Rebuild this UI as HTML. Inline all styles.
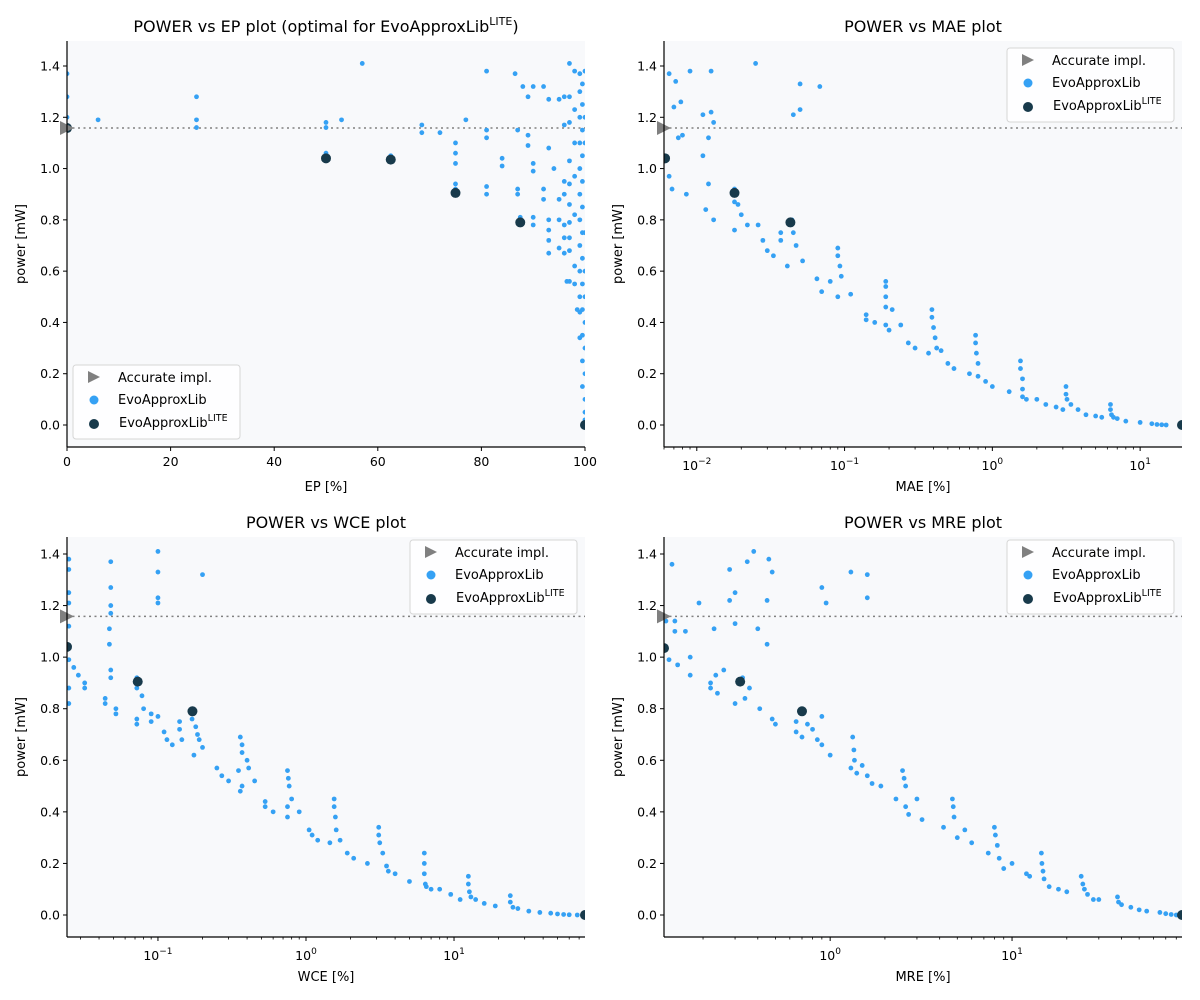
<!DOCTYPE html>
<html><head><meta charset="utf-8"><style>
body{margin:0;background:#fff;}
svg{display:block;font-family:"DejaVu Sans","Liberation Sans",sans-serif;}
</style></head><body>
<svg id="chart" width="1200" height="1000" viewBox="0 0 1200 1000" xmlns="http://www.w3.org/2000/svg"></svg>
<script>
// ---- Panel 1: EP ----
const epLightX=[0,0,0,6,25,25,25,50,50,50,53,57,62.5,68.5,68.5,72,75,75,75,75,75,77,81,81,81,81,81,84,84,86.5,87,87,87,87.5,88,89,89,89,90,90,90,90,90,92,92,92,93,93,93,93,93,93,94,95,95,95,95,96,96,96,96,96,96,96,96.5,97,97,97,97,97,97,97,97,97,97,98,98,98,98,98,98,98,98.5,99,99,99,99,99,99,99,99,99,99,99,99,99.5,99.5,99.5,99.5,99.5,99.5,99.5,99.5,99.5,99.5,99.5,99.5,99.5,100,100,100,100,100,100,100,100,100,100,100,100,100];
const epLightY=[1.37,1.28,1.2,1.19,1.28,1.19,1.16,1.18,1.16,1.06,1.19,1.41,1.05,1.17,1.14,1.14,1.1,1.06,1.02,0.94,0.92,1.19,1.38,1.15,1.12,0.93,0.9,1.04,1.01,1.37,1.15,0.92,0.9,0.81,1.32,1.28,1.13,1.09,1.32,1.02,0.99,0.81,0.78,1.32,0.92,0.88,1.27,1.08,0.8,0.76,0.72,0.67,1.0,1.27,0.88,0.8,0.69,1.28,1.17,0.95,0.9,0.78,0.73,0.67,0.56,1.41,1.28,1.18,1.03,0.94,0.86,0.79,0.73,0.68,0.56,1.38,1.23,1.1,0.97,0.82,0.62,0.55,0.45,1.37,1.3,1.2,1.1,1.0,0.9,0.8,0.7,0.6,0.5,0.44,0.34,1.33,1.25,1.15,1.05,0.95,0.85,0.75,0.65,0.55,0.45,0.35,0.25,0.15,1.38,1.2,1.1,0.75,0.6,0.5,0.4,0.3,0.2,0.1,0.05,0.02,0.0];
const epDarkX=[0,50,62.5,75,87.5,100];
const epDarkY=[1.158,1.04,1.035,0.905,0.79,0.0];
const epAccX=[0], epAccY=[1.158];
const epTicks=[0,20,40,60,80,100];
// ---- Panel 2: MAE ----
const maeLightX=[0.0065,0.0065,0.0068,0.007,0.0072,0.0075,0.0078,0.008,0.0085,0.009,0.011,0.011,0.0115,0.012,0.012,0.0125,0.0125,0.013,0.013,0.018,0.018,0.018,0.019,0.02,0.022,0.025,0.026,0.028,0.03,0.033,0.037,0.037,0.041,0.044,0.045,0.045,0.047,0.05,0.05,0.052,0.065,0.068,0.07,0.08,0.09,0.09,0.093,0.095,0.09,0.11,0.14,0.14,0.16,0.19,0.19,0.19,0.19,0.19,0.2,0.21,0.24,0.27,0.3,0.37,0.39,0.39,0.4,0.41,0.42,0.45,0.5,0.55,0.7,0.77,0.77,0.78,0.8,0.8,0.9,1.0,1.3,1.55,1.55,1.6,1.6,1.6,1.7,2.0,2.3,2.7,3.0,3.15,3.15,3.2,3.4,3.8,4.3,5,5.5,6.3,6.3,6.4,6.6,7,8,10,12,13,14,15];
const maeLightY=[1.37,0.97,0.92,1.24,1.34,1.12,1.26,1.13,0.9,1.38,1.21,1.05,0.84,1.12,0.94,1.38,1.22,1.18,0.8,0.92,0.87,0.76,0.86,0.82,0.78,1.41,0.78,0.72,0.68,0.66,0.75,0.72,0.62,0.8,1.21,0.75,0.7,1.33,1.23,0.64,0.57,1.32,0.52,0.56,0.69,0.66,0.62,0.58,0.5,0.51,0.43,0.41,0.4,0.56,0.54,0.5,0.46,0.39,0.37,0.45,0.39,0.32,0.3,0.28,0.45,0.42,0.38,0.34,0.3,0.29,0.24,0.22,0.2,0.35,0.32,0.28,0.24,0.19,0.17,0.15,0.13,0.25,0.22,0.18,0.14,0.11,0.1,0.1,0.08,0.07,0.06,0.15,0.12,0.1,0.08,0.06,0.04,0.035,0.03,0.08,0.06,0.04,0.03,0.025,0.015,0.01,0.005,0.002,0.001,0];
const maeDarkX=[0.0061,0.018,0.043,19.2];
const maeDarkY=[1.04,0.905,0.79,0.0];
const maeAccX=[0.006], maeAccY=[1.158];
const maeTicks=[-2,-1,0,1];
// ---- Panel 3: WCE ----
const wceLightX=[0.025,0.025,0.025,0.025,0.025,0.025,0.025,0.025,0.027,0.029,0.032,0.032,0.044,0.044,0.048,0.048,0.048,0.048,0.047,0.047,0.048,0.048,0.052,0.052,0.072,0.072,0.072,0.072,0.078,0.08,0.09,0.09,0.1,0.1,0.1,0.1,0.1,0.11,0.115,0.125,0.14,0.14,0.145,0.17,0.18,0.185,0.19,0.175,0.2,0.2,0.25,0.27,0.3,0.35,0.36,0.37,0.37,0.37,0.36,0.4,0.41,0.45,0.53,0.53,0.6,0.75,0.76,0.77,0.75,0.75,0.8,0.9,1.05,1.1,1.2,1.45,1.55,1.55,1.58,1.6,1.7,1.9,2.1,2.6,3.1,3.1,3.15,3.3,3.5,3.6,4,5,6.3,6.3,6.3,6.4,6.5,7,8,9.5,11,12.5,12.5,12.7,13,14,16,19,24,24,25,27,32,38,45,50,55,60,68];
const wceLightY=[1.38,1.34,1.25,1.21,1.12,0.99,0.88,0.82,0.96,0.93,0.9,0.88,0.84,0.82,1.37,1.27,1.2,1.17,1.11,1.05,0.95,0.92,0.8,0.78,0.92,0.88,0.76,0.74,0.85,0.8,0.78,0.75,1.41,1.33,1.23,1.21,0.77,0.71,0.68,0.66,0.75,0.72,0.68,0.76,0.73,0.7,0.68,0.62,1.32,0.65,0.57,0.54,0.52,0.56,0.69,0.66,0.63,0.5,0.48,0.6,0.57,0.52,0.44,0.42,0.4,0.56,0.53,0.5,0.42,0.38,0.45,0.4,0.33,0.31,0.29,0.28,0.45,0.42,0.38,0.33,0.29,0.24,0.22,0.2,0.34,0.31,0.28,0.24,0.19,0.17,0.16,0.13,0.24,0.2,0.16,0.12,0.11,0.1,0.1,0.08,0.06,0.15,0.12,0.09,0.07,0.06,0.045,0.035,0.075,0.05,0.03,0.025,0.015,0.01,0.007,0.004,0.002,0.001,0.0];
const wceDarkX=[0.0243,0.073,0.171,76.7];
const wceDarkY=[1.04,0.905,0.79,0.0];
const wceAccX=[0.0243], wceAccY=[1.158];
const wceTicks=[-1,0,1];
// ---- Panel 4: MRE ----
const mreLightX=[0.125,0.125,0.13,0.135,0.14,0.14,0.145,0.16,0.17,0.17,0.19,0.22,0.22,0.23,0.235,0.24,0.26,0.28,0.28,0.3,0.3,0.3,0.33,0.34,0.35,0.36,0.38,0.4,0.41,0.45,0.45,0.46,0.48,0.48,0.5,0.65,0.65,0.7,0.75,0.8,0.85,0.9,0.9,0.9,0.95,1.0,1.3,1.3,1.33,1.35,1.36,1.4,1.5,1.6,1.6,1.6,1.7,1.9,2.3,2.5,2.55,2.6,2.6,2.7,3.0,3.2,4.2,4.7,4.75,4.8,5.0,5.5,6,7.4,8,8.1,8.3,8.5,9,10,12,12.5,14.5,14.6,14.8,15,16,18,20,24,24.5,25,26,28,30,38,38.5,40,45,50,55,65,70,75,80];
const mreLightY=[1.14,1.04,0.99,1.36,1.14,1.1,0.97,1.1,1.0,0.93,1.21,0.9,0.88,1.11,0.93,0.86,0.95,1.34,1.22,1.25,1.13,0.82,0.92,0.84,1.37,0.88,1.41,1.11,0.8,1.22,1.05,1.38,1.33,0.76,0.74,0.75,0.71,0.69,0.74,0.72,0.68,1.27,0.77,0.66,1.21,0.62,0.57,1.33,0.69,0.64,0.6,0.55,0.58,1.32,1.23,0.54,0.51,0.5,0.45,0.56,0.53,0.5,0.42,0.39,0.45,0.37,0.34,0.45,0.42,0.38,0.3,0.33,0.28,0.24,0.34,0.31,0.27,0.22,0.18,0.2,0.16,0.15,0.24,0.2,0.17,0.14,0.11,0.1,0.09,0.15,0.12,0.1,0.08,0.06,0.06,0.07,0.05,0.04,0.03,0.02,0.015,0.01,0.005,0.002,0.0];
const mreDarkX=[0.122,0.32,0.7,86];
const mreDarkY=[1.035,0.905,0.79,0.0];
const mreAccX=[0.122], mreAccY=[1.158];
const mreTicks=[0,1];
const yTicks=[0.0,0.2,0.4,0.6,0.8,1.0,1.2,1.4];
const accuratePower=1.158;

const NS="http://www.w3.org/2000/svg";
const svg=document.getElementById('chart');
function mk(tag,attrs,parent){const e=document.createElementNS(NS,tag);for(const k in attrs)e.setAttribute(k,attrs[k]);(parent||svg).appendChild(e);return e;}

const panels=[
 {key:'ep',title:'POWER vs EP plot (optimal for EvoApproxLib',lite:true,xlabel:'EP [%]',L:67,R:585,T:41,B:447,y0:425,y14:66,log:false,xmin:0,xmax:100,lx:epLightX,ly:epLightY,dx:epDarkX,dy:epDarkY,ax:epAccX,ay:epAccY,ticks:epTicks,legend:[73,365]},
 {key:'mae',title:'POWER vs MAE plot',xlabel:'MAE [%]',L:664,R:1182,T:41,B:447,y0:425,y14:66,log:true,xmin:0.006,xmax:19.2,lx:maeLightX,ly:maeLightY,dx:maeDarkX,dy:maeDarkY,ax:maeAccX,ay:maeAccY,ticks:maeTicks,legend:[1007,48]},
 {key:'wce',title:'POWER vs WCE plot',xlabel:'WCE [%]',L:67,R:585,T:537,B:937,y0:915,y14:554,log:true,xmin:0.0243,xmax:76.7,lx:wceLightX,ly:wceLightY,dx:wceDarkX,dy:wceDarkY,ax:wceAccX,ay:wceAccY,ticks:wceTicks,legend:[410,540]},
 {key:'mre',title:'POWER vs MRE plot',xlabel:'MRE [%]',L:664,R:1182,T:537,B:937,y0:915,y14:554,log:true,xmin:0.122,xmax:86,lx:mreLightX,ly:mreLightY,dx:mreDarkX,dy:mreDarkY,ax:mreAccX,ay:mreAccY,ticks:mreTicks,legend:[1007,540]}
];
const LIGHT='#35a1f4', DARK='#183a4b', GREY='#808080';

panels.forEach(p=>{
 const g=mk('g',{});
 
 
 const xs=p.log?(v=>p.L+(Math.log10(v)-Math.log10(p.xmin))/(Math.log10(p.xmax)-Math.log10(p.xmin))*(p.R-p.L)):(v=>p.L+(v-p.xmin)/(p.xmax-p.xmin)*(p.R-p.L));
 const ys=v=>p.y0+(p.y14-p.y0)*v/1.4;
 const bg=mk('rect',{x:p.L,y:p.T,width:p.R-p.L,height:p.B-p.T,fill:'#f8f9fb'},g);
 
 
 // title
 const t=mk('text',{x:(p.L+p.R)/2,y:p.T-9,'text-anchor':'middle','font-size':16,fill:'#000'},g);
 
 
 t.textContent=p.title;
 if(p.lite){const s=mk('tspan',{'font-size':11,dy:-7},t);s.textContent='LITE';const s2=mk('tspan',{'font-size':16,dy:7},t);s2.textContent=')';}
 // dotted line
 const dl=mk('line',{x1:p.L,x2:p.R,y1:ys(accuratePower),y2:ys(accuratePower),stroke:GREY,'stroke-width':1.5,'stroke-dasharray':'2,3.5'},g);
 
 
 // light points
 const clip=mk('clipPath',{id:'clip-'+p.key},g);
 mk('rect',{x:p.L,y:p.T,width:p.R-p.L,height:p.B-p.T},clip);
 const pg=mk('g',{'clip-path':'url(#clip-'+p.key+')'},g);
 p.lx.forEach((v,i)=>{
  const c=mk('circle',{cx:xs(v),cy:ys(p.ly[i]),r:2.4,fill:LIGHT},pg);
  
  
 });
 p.dx.forEach((v,i)=>{
  const c=mk('circle',{cx:xs(v),cy:ys(p.dy[i]),r:5,fill:DARK},pg);
  
  
 });
 p.ax.forEach((v,i)=>{
  const x=xs(v),y=ys(p.ay[i]);
  const tr=mk('polygon',{points:`${x-7},${y-7} ${x+7},${y} ${x-7},${y+7}`,fill:GREY},g);
  
  
 });
 // spines
 mk('line',{x1:p.L,x2:p.L,y1:p.T,y2:p.B,stroke:'#000','stroke-width':1.2},g);
 mk('line',{x1:p.L,x2:p.R,y1:p.B,y2:p.B,stroke:'#000','stroke-width':1.2},g);
 // y ticks
 yTicks.forEach(v=>{
  const y=ys(v);
  mk('line',{x1:p.L-4,x2:p.L,y1:y,y2:y,stroke:'#000'},g);
  const tt=mk('text',{x:p.L-7,y:y+4.5,'text-anchor':'end','font-size':12.5,fill:'#000'},g);
  
  
  tt.textContent=v.toFixed(1);
 });
 const yl=mk('text',{x:p.L-42,y:(p.T+p.B)/2,'text-anchor':'middle','font-size':13,transform:`rotate(-90 ${p.L-42} ${(p.T+p.B)/2})`},g);
 
 
 yl.textContent='power [mW]';
 // x ticks
 if(!p.log){
  p.ticks.forEach(v=>{
   const x=xs(v);
   mk('line',{x1:x,x2:x,y1:p.B,y2:p.B+4,stroke:'#000'},g);
   const tt=mk('text',{x:x,y:p.B+19,'text-anchor':'middle','font-size':12.5},g);
   
   
   tt.textContent=v;
  });
 } else {
  const lo=Math.floor(Math.log10(p.xmin)), hi=Math.ceil(Math.log10(p.xmax));
  for(let e=lo;e<=hi;e++)for(let m=2;m<=9;m++){
   const v=m*Math.pow(10,e);
   if(v<p.xmin||v>p.xmax)continue;
   const x=xs(v);
   mk('line',{x1:x,x2:x,y1:p.B,y2:p.B+2.5,stroke:'#000','stroke-width':0.8},g);
  }
  p.ticks.forEach(e=>{
   const x=xs(Math.pow(10,e));
   mk('line',{x1:x,x2:x,y1:p.B,y2:p.B+4,stroke:'#000'},g);
   const tt=mk('text',{x:x,y:p.B+23,'text-anchor':'middle','font-size':12.5},g);
   
   
   const a=mk('tspan',{},tt);a.textContent='10';
   const b=mk('tspan',{'font-size':9,dy:-6},tt);b.textContent=(e<0?'\u2212':'')+Math.abs(e);
  });
 }
 const xl=mk('text',{x:(p.L+p.R)/2,y:p.B+44,'text-anchor':'middle','font-size':13},g);
 
 
 xl.textContent=p.xlabel;
 // legend
 const [lx,ly]=p.legend;
 const lg=mk('g',{},g);
 
 
 mk('rect',{x:lx,y:ly,width:167,height:74,rx:3,fill:'#fff','fill-opacity':0.85,stroke:'#d6d6d6'},lg);
 mk('polygon',{points:`${lx+15},${ly+6} ${lx+27},${ly+12} ${lx+15},${ly+18}`,fill:GREY},lg);
 mk('circle',{cx:lx+21,cy:ly+35,r:4.5,fill:LIGHT},lg);
 mk('circle',{cx:lx+21,cy:ly+59,r:5,fill:DARK},lg);
 const e1=mk('text',{x:lx+45,y:ly+17,'font-size':13},lg);e1.textContent='Accurate impl.';
 
 
 const e2=mk('text',{x:lx+45,y:ly+39,'font-size':13},lg);e2.textContent='EvoApproxLib';
 
 
 const e3=mk('text',{x:lx+46,y:ly+62,'font-size':13},lg);e3.textContent='EvoApproxLib';
 
 
 const s=mk('tspan',{'font-size':9.5,dy:-6},e3);s.textContent='LITE';
});
</script>
</body></html>
